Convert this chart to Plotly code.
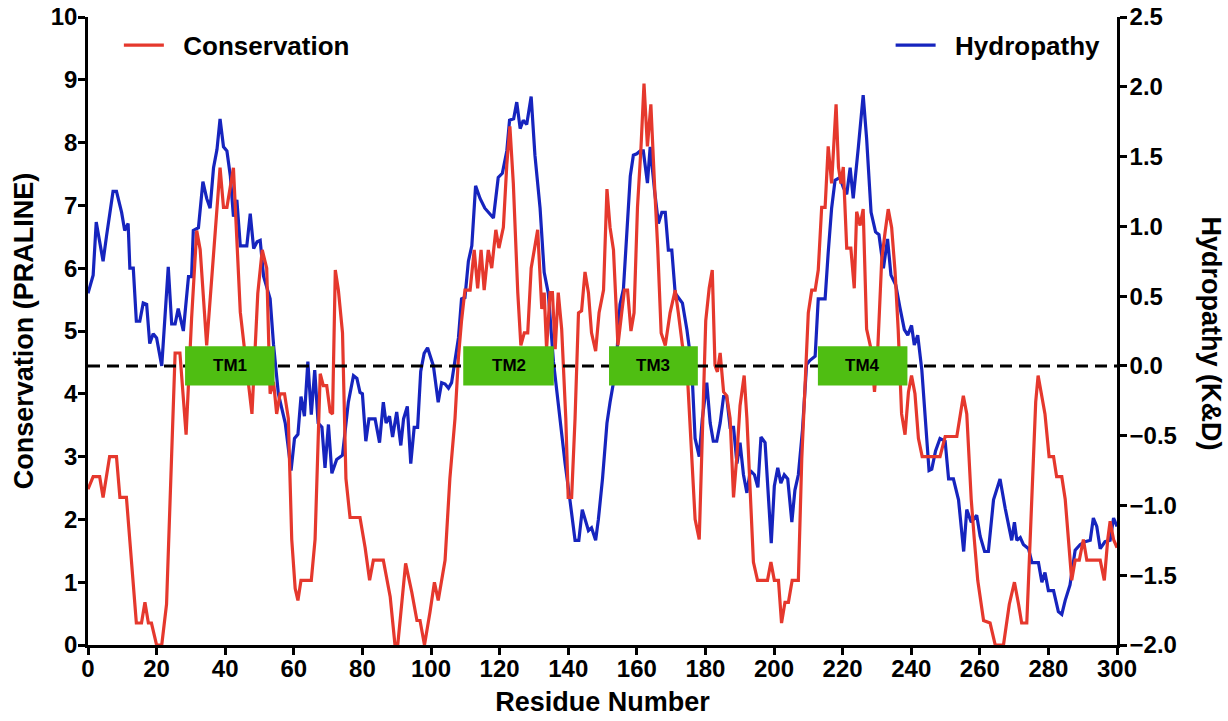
import plotly.graph_objects as go

# Conservation score (PRALINE) along the sequence: residue positions and values
cons_residue = [
    0, 1.5, 3.4, 4.4, 6.3, 8.3, 9.3, 11.2, 14.1, 15.6, 16.6, 17.6, 18.5, 20, 21.5, 22.9,
    25.4, 26.8, 28.6, 30.2, 31.7, 32.7, 34.6, 36.6, 38.5, 39.5, 40.5, 42.4, 44.4, 46.3,
    47.8, 49.5, 50.8, 52.1, 53.1, 54.1, 55.0, 56.0, 57.3, 58.4, 59.4, 60.4, 61.2, 62.1,
    65.1, 66.2, 67.7, 68.6, 69.6, 70.6, 71.3, 72.1, 73.0, 74.2, 75.2, 76.4, 79.3, 80.8,
    82.1, 83.2, 86.1, 88.1, 89.5, 90.3, 92.6, 94.4, 95.9, 96.8, 98.1, 99.7, 101.0, 102.1,
    104.1, 105.5, 107.0, 108.0, 108.9, 109.9, 111.4, 112.6, 113.6, 114.6, 115.5, 116.7,
    117.7, 118.9, 119.8, 121.1, 122.1, 123.0, 124.0, 125.3, 126.2, 127.2, 128.2, 129.2,
    131.1, 132.3, 133.0, 133.7, 134.7, 135.4, 136.2, 137.1, 138.1, 139.3, 140.0, 141.0,
    142.0, 143.0, 143.9, 144.9, 145.9, 146.8, 148.0, 149.0, 150.3, 151.3, 152.2, 153.2,
    154.5, 155.6, 156.4, 157.3, 158.3, 159.2, 160.2, 161.2, 162.1, 163.1, 164.1, 165.2,
    166.1, 167.1, 168.3, 169.7, 171.2, 172.1, 173.3, 174.6, 176.0, 177.0, 178.2, 179.1,
    180.1, 181.1, 182.0, 182.8, 183.5, 184.3, 185.3, 186.2, 187.2, 188.2, 189.2, 190.1,
    191.3, 192.1, 193.1, 194.0, 195.2, 198.1, 199.1, 200.1, 201.3, 202.2, 203.2, 204.2,
    205.3, 207.1, 208.1, 209.0, 210.0, 211.0, 212.0, 212.9, 213.9, 214.9, 215.8, 216.8,
    218.1, 218.8, 219.5, 220.2, 221.2, 222.4, 223.4, 224.1, 225.1, 226.0, 227.0, 228.3,
    229.3, 230.2, 231.4, 232.4, 233.3, 234.3, 235.3, 236.2, 237.2, 238.2, 239.2, 240.1,
    241.1, 242.1, 243.2, 248.4, 249.9, 253.3, 255.2, 256.2, 257.5, 258.4, 259.4, 261.1,
    263.0, 264.5, 266.9, 268.6, 270.1, 271.3, 272.2, 273.7, 275.2, 276.3, 277.0, 278.0,
    279.0, 280.2, 281.5, 282.4, 283.9, 284.9, 285.9, 286.8, 287.8, 289.0, 290.2, 291.2,
    295.1, 296.3, 297.3, 298.0, 299.0, 300,
]
cons_value = [
    2.48, 2.68, 2.68, 2.35, 3.0, 3.0, 2.35, 2.35, 0.35, 0.35, 0.68, 0.35, 0.35, 0, 0, 0.65,
    4.65, 4.65, 3.35, 5.2, 6.6, 6.3, 4.77, 6.3, 7.6, 6.97, 6.97, 7.6, 5.3, 4.39,
    3.68, 5.6, 6.29, 6.0, 4.0, 4.19, 3.68, 4.0, 4.0, 3.61, 1.68, 0.9, 0.71, 1.03,
    1.03, 1.68, 4.32, 4.13, 4.13, 3.71, 3.68, 5.97, 5.65, 4.97, 2.65, 2.03, 2.03, 1.55,
    1.03, 1.35, 1.35, 0.77, 0, 0, 1.3, 0.84, 0.39, 0.39, 0, 0.52, 1.0, 0.71,
    1.35, 2.65, 3.61, 4.58, 5.16, 5.65, 5.65, 6.29, 5.68, 6.29, 5.65, 6.29,
    6.0, 6.61, 6.32, 6.65, 7.65, 8.26, 7.35, 5.61, 4.77, 4.97, 4.97, 6.0,
    6.61, 5.35, 5.61, 4.71, 5.61, 5.61, 4.71, 5.61, 5.03, 3.61, 2.35, 2.35,
    3.61, 5.29, 5.32, 5.94, 5.61, 4.97, 4.68, 5.29, 5.65, 7.26, 6.65, 6.29,
    4.77, 5.29, 5.65, 5.65, 5.0, 5.29, 6.97, 7.9, 8.94, 7.94, 8.61, 7.29,
    6.32, 4.97, 4.77, 5.29, 5.65, 5.29, 4.77, 4.45, 2.97, 2.0, 1.68, 3.48,
    5.16, 5.68, 5.97, 4.45, 4.35, 4.65, 4.03, 3.97, 3.61, 2.35, 3.03, 3.81,
    4.29, 3.61, 2.32, 1.32, 1.03, 1.03, 1.32, 1.03, 1.03, 0.35, 0.68, 0.68,
    1.03, 1.03, 2.97, 4.06, 5.29, 5.65, 5.65, 5.97, 6.97, 6.97, 7.94, 7.35,
    8.61, 7.61, 7.35, 7.61, 6.32, 6.32, 5.68, 6.9, 6.68, 6.94, 5.03, 4.71,
    4.03, 4.65, 6.13, 6.58, 6.94, 6.65, 5.94, 5.03, 3.68, 3.35, 4.03, 4.29,
    4.0, 3.29, 3.0, 3.0, 3.32, 3.32, 3.97, 3.68, 2.32, 1.68, 1.03, 0.39,
    0.35, 0, 0, 0.65, 1.0, 0.65, 0.35, 0.35, 2.32, 3.87, 4.29, 4.0,
    3.68, 3.0, 3.0, 2.68, 2.68, 2.32, 1.68, 1.03, 1.35, 1.35, 1.68, 1.35,
    1.35, 1.03, 1.68, 1.97, 1.68, 1.55,
]

# Kyte & Doolittle hydropathy profile: residue positions and values
hyd_residue = [
    0, 1.5, 2.4, 4.4, 5.4, 7.3, 8.3, 9.8, 10.7, 11.7, 12.2, 13.2, 14.1, 15.1, 16.1, 17.1,
    18.0, 19.0, 20.0, 21.5, 23.4, 24.4, 25.4, 26.3, 27.8, 29.3, 30.2, 30.7, 32.2, 33.5,
    34.6, 35.6, 36.6, 37.6, 38.5, 39.5, 40.5, 41.5, 42.4, 43.4, 44.4, 46.3, 47.3, 48.3,
    49.3, 50.2, 51.2, 53.1, 54.1, 55.5, 57.5, 59.2, 60.2, 61.2, 62.1, 63.1, 64.1, 65.1,
    66.1, 67.1, 68.2, 69.1, 70.1, 71.1, 72.5, 74.2, 75.9, 77.4, 78.4, 79.3, 80.0, 81.0,
    81.9, 83.7, 85.0, 86.1, 86.9, 87.9, 88.8, 90.0, 91.2, 92.0, 93.1, 94.1, 95.1, 96.1,
    97.0, 98.0, 99.0, 100.7, 102.1, 103.1, 104.1, 105.1, 106.0, 107.0, 108.0, 108.9,
    109.9, 110.9, 111.9, 113.0, 114.3, 115.7, 116.9, 118.2, 119.6, 120.8, 122.1, 122.9,
    124.1, 125.0, 126.0, 126.9, 127.9, 129.2, 130.3, 131.8, 133.0, 134.2, 135.7, 136.6,
    137.6, 139.1, 140.5, 142.0, 143.1, 144.1, 145.9, 146.8, 148.0, 148.8, 150.0, 151.3,
    152.2, 153.2, 154.2, 155.1, 156.1, 157.1, 158.1, 159.0, 160.0, 161.0, 161.9, 163.1,
    163.9, 165.2, 166.3, 167.3, 168.3, 169.2, 170.2, 171.2, 172.1, 173.3, 174.6, 176.0,
    177.0, 178.2, 179.1, 180.4, 181.4, 182.3, 183.3, 184.3, 185.3, 186.2, 187.2, 188.2,
    189.2, 190.1, 191.1, 192.1, 193.1, 194.3, 195.3, 196.2, 197.4, 198.4, 199.2, 200.1,
    201.1, 202.0, 203.0, 204.0, 205.2, 206.1, 207.1, 208.3, 209.5, 210.5, 212.0, 212.9,
    214.9, 215.8, 216.8, 217.8, 219.2, 220.2, 221.2, 222.2, 223.1, 224.6, 226.0, 227.0,
    228.3, 229.6, 230.6, 231.9, 233.1, 234.1, 235.5, 236.7, 238.0, 239.0, 240.1, 240.9,
    241.9, 243.1, 244.0, 245.2, 246.0, 247.1, 248.4, 249.9, 250.9, 252.3, 253.8, 255.3,
    256.2, 257.5, 259.1, 260.1, 261.4, 262.5, 264.0, 265.9, 267.4, 268.2, 269.3, 270.1,
    270.8, 271.8, 272.7, 274.2, 275.2, 277.1, 278.1, 279.0, 280.0, 281.5, 282.9, 283.9,
    284.9, 286.3, 287.8, 289.3, 290.7, 292.2, 293.1, 294.1, 295.1, 296.5, 298.0, 299.0,
    300.0,
]
hyd_value = [
    0.52, 0.65, 1.03, 0.75, 0.93, 1.25, 1.25, 1.10, 0.97, 1.02, 0.70, 0.70, 0.32, 0.32, 0.45, 0.44,
    0.16, 0.23, 0.20, 0.0, 0.71, 0.30, 0.30, 0.41, 0.25, 0.64, 0.64, 0.97, 0.99, 1.32,
    1.20, 1.13, 1.42, 1.55, 1.77, 1.57, 1.54, 1.36, 1.07, 1.19, 0.86, 0.86, 1.09, 0.84,
    0.89, 0.90, 0.64, 0.48, 0.15, -0.20, -0.41, -0.75, -0.52, -0.49, -0.22, -0.36, 0.03, -0.35,
    -0.03, -0.41, -0.44, -0.73, -0.42, -0.77, -0.67, -0.64, -0.26, -0.07, -0.09, -0.19, -0.20, -0.54,
    -0.38, -0.38, -0.55, -0.26, -0.41, -0.36, -0.51, -0.33, -0.57, -0.38, -0.29, -0.70, -0.44, -0.44,
    -0.04, 0.09, 0.13, 0.0, -0.26, -0.12, -0.13, -0.16, -0.12, 0.04, 0.20, 0.48,
    0.49, 0.75, 0.86, 1.29, 1.20, 1.13, 1.10, 1.06, 1.35, 1.38, 1.54, 1.76,
    1.77, 1.89, 1.70, 1.76, 1.73, 1.93, 1.51, 1.13, 0.67, 0.52, 0.03, -0.17,
    -0.35, -0.70, -0.96, -1.25, -1.25, -1.03, -1.18, -1.16, -1.25, -1.10, -0.81, -0.41,
    -0.26, -0.12, 0.09, 0.44, 0.55, 0.99, 1.36, 1.51, 1.52, 1.54, 1.54, 1.31,
    1.57, 1.25, 1.02, 1.10, 1.10, 0.83, 0.83, 0.52, 0.49, 0.45, 0.26, 0.0,
    -0.52, -0.65, -0.38, -0.12, -0.41, -0.54, -0.54, -0.41, -0.22, -0.22, -0.44, -0.44,
    -0.70, -0.55, -0.78, -0.91, -0.75, -0.78, -0.87, -0.51, -0.55, -0.96, -1.27, -0.86,
    -0.73, -0.84, -0.78, -0.81, -1.12, -0.89, -0.78, -0.46, 0.01, 0.04, 0.07, 0.48,
    0.48, 0.81, 1.13, 1.33, 1.35, 1.28, 1.23, 1.42, 1.20, 1.57, 1.94, 1.63,
    1.10, 0.96, 0.94, 0.70, 0.91, 0.65, 0.58, 0.42, 0.26, 0.22, 0.29, 0.15,
    0.22, -0.03, -0.35, -0.75, -0.74, -0.61, -0.52, -0.54, -0.81, -0.81, -0.96, -1.33,
    -1.03, -1.12, -1.07, -1.22, -1.33, -1.33, -0.96, -0.81, -1.02, -1.13, -1.25, -1.12,
    -1.25, -1.23, -1.28, -1.31, -1.41, -1.41, -1.55, -1.48, -1.61, -1.61, -1.76, -1.78,
    -1.68, -1.57, -1.32, -1.28, -1.26, -1.25, -1.09, -1.15, -1.31, -1.26, -1.25, -1.09,
    -1.15,
]

# Transmembrane segments (start, end residue) and their labels
tm_labels = ["TM1", "TM2", "TM3", "TM4"]
tm_start = [28.3, 109.4, 151.9, 212.8]
tm_end = [54.4, 135.8, 177.8, 238.9]

FONT = "Liberation Sans, Arial, Helvetica, sans-serif"
RED = "#E5382D"
BLUE = "#1624BE"
NBSP = "\u00a0"

fig = go.Figure()

fig.add_trace(go.Scatter(
    x=hyd_residue, y=hyd_value, mode="lines", name=NBSP * 2 + "Hydropathy",
    line=dict(color=BLUE, width=3.2), yaxis="y", legend="legend2",
))
fig.add_trace(go.Scatter(
    x=cons_residue, y=cons_value, mode="lines", name=NBSP * 2 + "Conservation",
    line=dict(color=RED, width=3.2), yaxis="y2", legend="legend",
))

# Hydropathy zero line
fig.add_shape(type="line", xref="x", yref="y", x0=0, x1=300, y0=0, y1=0,
              line=dict(color="black", width=3, dash="12px,7px"), layer="above")

# TM segment boxes with labels
for lab, s, e in zip(tm_labels, tm_start, tm_end):
    fig.add_shape(type="rect", xref="x", yref="y", x0=s, x1=e, y0=-0.14, y1=0.14,
                  fillcolor="#4FBE12", line=dict(width=0), layer="above")
    fig.add_annotation(x=(s + e) / 2, y=0, xref="x", yref="y", text=lab,
                       showarrow=False,
                       font=dict(family=FONT, size=17, color="black", weight="bold"))

axis_common = dict(
    showline=True, linecolor="black", linewidth=2.5, ticks="outside", ticklen=7,
    tickwidth=2.5, tickcolor="black", showgrid=False, zeroline=False, automargin=False,
    tickfont=dict(family=FONT, size=24, color="black", weight="bold"),
)
TITLE_FONT = dict(family=FONT, size=27, color="black", weight="bold")
LEGEND_FONT = dict(family=FONT, size=26, color="black", weight="bold")

fig.update_layout(
    width=1228, height=721,
    margin=dict(l=88, r=111, t=17, b=76, autoexpand=False),
    paper_bgcolor="white", plot_bgcolor="white",
    xaxis=dict(range=[0, 300], tick0=0, dtick=20, ticklabelstandoff=-7, **axis_common,
               title=dict(text="Residue Number", standoff=12, font=TITLE_FONT)),
    yaxis=dict(range=[-2, 2.5], tick0=-2, dtick=0.5, tickformat=".1f", side="right",
               ticklabelstandoff=-2, **axis_common),
    yaxis2=dict(range=[0, 10], tick0=0, dtick=1, side="left", overlaying="y",
                ticklabelstandoff=-4, **axis_common,
                title=dict(text="Conservation (PRALINE)", standoff=10, font=TITLE_FONT)),
    legend=dict(x=0.03, y=0.955, xanchor="left", yanchor="middle",
                bgcolor="rgba(0,0,0,0)", itemwidth=40, font=LEGEND_FONT),
    legend2=dict(x=0.78, y=0.955, xanchor="left", yanchor="middle",
                 bgcolor="rgba(0,0,0,0)", itemwidth=40, font=LEGEND_FONT),
    showlegend=True,
)

# Right-hand axis title, reading top to bottom
fig.add_annotation(x=1.0, y=0.496, xref="paper", yref="paper", xanchor="center",
                   yanchor="middle", xshift=94,
                   text="Hydropathy (K&D)", textangle=90, showarrow=False,
                   font=dict(family=FONT, size=27, color="black", weight="bold"))

fig.write_html("out.html")
